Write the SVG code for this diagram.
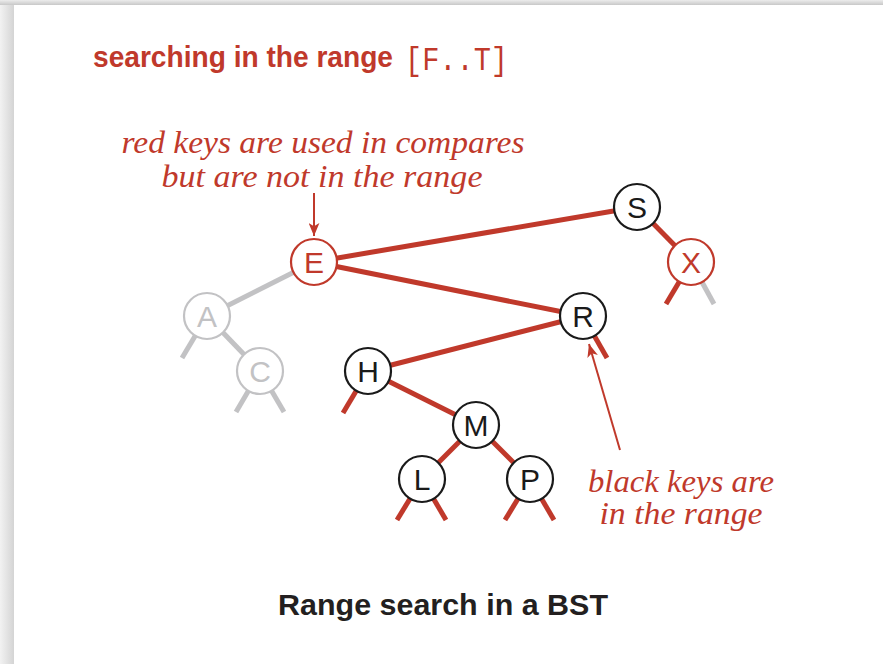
<svg xmlns="http://www.w3.org/2000/svg" width="883" height="664" viewBox="0 0 883 664">
  <defs>
    <linearGradient id="gl" x1="0" y1="0" x2="1" y2="0">
      <stop offset="0" stop-color="#f2f2f2"/>
      <stop offset="1" stop-color="#d4d4d4"/>
    </linearGradient>
    <linearGradient id="gt" x1="0" y1="0" x2="0" y2="1">
      <stop offset="0" stop-color="#ececec"/>
      <stop offset="1" stop-color="#c8c8c8"/>
    </linearGradient>
    <marker id="ah" viewBox="0 0 12 10" refX="12" refY="5" markerWidth="13" markerHeight="11" markerUnits="userSpaceOnUse" orient="auto">
      <path d="M0,0 L12,5 L0,10 L3,5 Z" fill="#c0392b"/>
    </marker>
  </defs>
  <style>
    .red { stroke: #c0392b; stroke-width: 5; stroke-linecap: butt; fill: none; }
    .gry { stroke: #c2c2c4; stroke-width: 5; stroke-linecap: butt; fill: none; }
    .ann { stroke: #c0392b; stroke-width: 2; fill: none; }
    .nb circle { fill: #ffffff; stroke: #1a1a1a; stroke-width: 2.2; }
    .nr circle { fill: #ffffff; stroke: #c0392b; stroke-width: 2.2; }
    .ng circle { fill: #ffffff; stroke: #c2c2c4; stroke-width: 2.2; }
    .lbl { font-family: "Liberation Sans", Arial, sans-serif; font-size: 30px; text-anchor: middle; }
    .nb text { fill: #1a1a1a; }
    .nr text { fill: #c0392b; }
    .ng text { fill: #c2c2c4; }
    .it { font-family: "Liberation Serif", "Times New Roman", serif; font-style: italic; font-size: 31px; fill: #c0392b; text-anchor: middle; }
  </style>

  <rect x="0" y="0" width="883" height="664" fill="#ffffff"/>
  <rect x="0" y="0" width="14" height="664" fill="url(#gl)"/>
  <rect x="0" y="0" width="883" height="5" fill="url(#gt)"/>
  <rect x="14" y="5" width="869" height="659" fill="#ffffff"/>

  <text x="93" y="67" font-family="Liberation Sans, Arial, sans-serif" font-weight="bold" font-size="30" fill="#c0392b" textLength="300" lengthAdjust="spacingAndGlyphs">searching in the range</text>
  <text x="405" y="70" font-family="Liberation Mono, Courier New, monospace" font-size="33" fill="#c0392b" textLength="103" lengthAdjust="spacingAndGlyphs">[F..T]</text>

  <text class="it" x="323" y="153" textLength="403" lengthAdjust="spacingAndGlyphs">red keys are used in compares</text>
  <text class="it" x="322" y="187" textLength="321" lengthAdjust="spacingAndGlyphs">but are not in the range</text>

  <text class="it" x="681" y="492" textLength="186" lengthAdjust="spacingAndGlyphs">black keys are</text>
  <text class="it" x="681" y="524" textLength="163" lengthAdjust="spacingAndGlyphs">in the range</text>

  <g id="connectors">
    <line class="red" x1="314" y1="262" x2="637" y2="207"/>
    <line class="red" x1="637" y1="207" x2="691" y2="262"/>
    <line class="red" x1="314" y1="262" x2="583" y2="316"/>
    <line class="gry" x1="314" y1="262" x2="207" y2="316"/>
    <line class="gry" x1="207" y1="316" x2="260" y2="371"/>
    <line class="gry" x1="207" y1="316" x2="182" y2="358"/>
    <line class="gry" x1="260" y1="371" x2="236" y2="412"/>
    <line class="gry" x1="260" y1="371" x2="284" y2="412"/>
    <line class="red" x1="691" y1="262" x2="666" y2="304"/>
    <line class="gry" x1="691" y1="262" x2="714" y2="304"/>
    <line class="red" x1="583" y1="316" x2="368" y2="371"/>
    <line class="red" x1="583" y1="316" x2="607" y2="358"/>
    <line class="red" x1="368" y1="371" x2="343" y2="413"/>
    <line class="red" x1="368" y1="371" x2="476" y2="425"/>
    <line class="red" x1="476" y1="425" x2="422" y2="479"/>
    <line class="red" x1="476" y1="425" x2="530" y2="479"/>
    <line class="red" x1="422" y1="479" x2="397" y2="520"/>
    <line class="red" x1="422" y1="479" x2="446" y2="520"/>
    <line class="red" x1="530" y1="479" x2="505" y2="520"/>
    <line class="red" x1="530" y1="479" x2="554" y2="520"/>
    <line class="ann" x1="314" y1="193" x2="314" y2="236" marker-end="url(#ah)"/>
    <line class="ann" x1="620" y1="450" x2="589" y2="344" marker-end="url(#ah)"/>
  </g>

  <g id="node-S" class="nb"><circle cx="637" cy="207" r="23"/><text class="lbl" x="637" y="218">S</text></g>
  <g id="node-X" class="nr"><circle cx="691" cy="262" r="23"/><text class="lbl" x="691" y="273">X</text></g>
  <g id="node-E" class="nr"><circle cx="314" cy="262" r="23"/><text class="lbl" x="314" y="273">E</text></g>
  <g id="node-R" class="nb"><circle cx="583" cy="316" r="23"/><text class="lbl" x="583" y="327">R</text></g>
  <g id="node-A" class="ng"><circle cx="207" cy="316" r="23"/><text class="lbl" x="207" y="327">A</text></g>
  <g id="node-C" class="ng"><circle cx="260" cy="371" r="23"/><text class="lbl" x="260" y="382">C</text></g>
  <g id="node-H" class="nb"><circle cx="368" cy="371" r="23"/><text class="lbl" x="368" y="382">H</text></g>
  <g id="node-M" class="nb"><circle cx="476" cy="425" r="23"/><text class="lbl" x="476" y="436">M</text></g>
  <g id="node-L" class="nb"><circle cx="422" cy="479" r="23"/><text class="lbl" x="422" y="490">L</text></g>
  <g id="node-P" class="nb"><circle cx="530" cy="479" r="23"/><text class="lbl" x="530" y="490">P</text></g>

  <text x="443" y="615" font-family="Liberation Sans, Arial, sans-serif" font-weight="bold" font-size="30" fill="#231f20" text-anchor="middle" textLength="330" lengthAdjust="spacingAndGlyphs">Range search in a BST</text>
</svg>
